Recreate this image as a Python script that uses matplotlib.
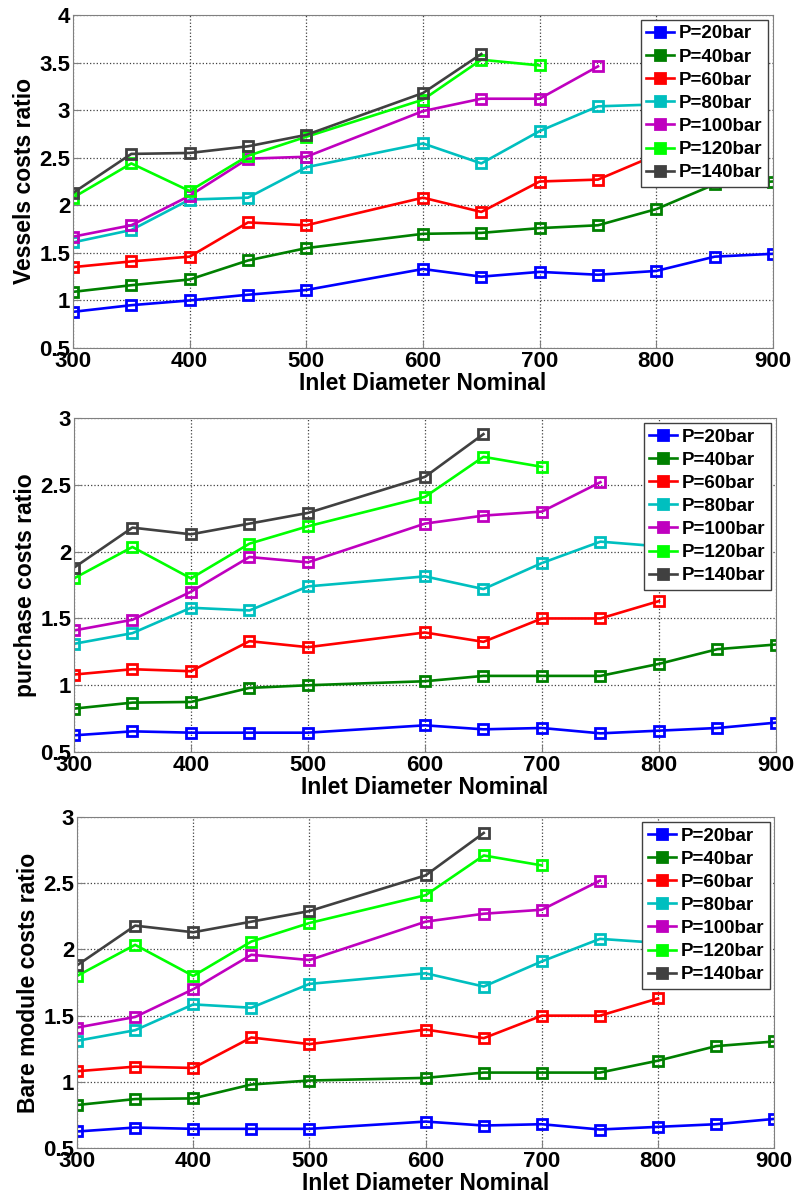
import matplotlib
matplotlib.use('Agg')
import matplotlib.pyplot as plt

plt.rcParams['font.family'] = ['Liberation Sans', 'DejaVu Sans']
plt.rcParams['font.weight'] = 'bold'

diam = [300, 350, 400, 450, 500, 600, 650, 700, 750, 800, 850, 900]
labels = ['P=20bar', 'P=40bar', 'P=60bar', 'P=80bar', 'P=100bar', 'P=120bar', 'P=140bar']
colors = ['#0000ff', '#008000', '#ff0000', '#00bfbf', '#bf00bf', '#00ff00', '#404040']

# vessels costs ratio
vessels = [
    [0.88, 0.95, 1.00, 1.06, 1.11, 1.33, 1.25, 1.30, 1.27, 1.31, 1.46, 1.49],
    [1.09, 1.16, 1.22, 1.42, 1.55, 1.70, 1.71, 1.76, 1.79, 1.96, 2.22, 2.25],
    [1.35, 1.41, 1.46, 1.82, 1.79, 2.08, 1.93, 2.25, 2.27, 2.53],
    [1.61, 1.74, 2.06, 2.08, 2.40, 2.65, 2.44, 2.78, 3.04, 3.06],
    [1.67, 1.79, 2.10, 2.49, 2.51, 2.99, 3.12, 3.12, 3.46],
    [2.08, 2.44, 2.15, 2.52, 2.72, 3.11, 3.53, 3.47],
    [2.13, 2.54, 2.55, 2.62, 2.74, 3.18, 3.59],
]

# purchase costs ratio
purchase = [
    [0.625, 0.655, 0.645, 0.645, 0.645, 0.70, 0.67, 0.68, 0.64, 0.66, 0.68, 0.72],
    [0.825, 0.87, 0.875, 0.98, 1.00, 1.03, 1.07, 1.07, 1.07, 1.16, 1.27, 1.305],
    [1.08, 1.12, 1.105, 1.33, 1.285, 1.395, 1.325, 1.50, 1.50, 1.63],
    [1.31, 1.39, 1.58, 1.56, 1.74, 1.815, 1.72, 1.915, 2.075, 2.04],
    [1.41, 1.49, 1.70, 1.96, 1.92, 2.21, 2.27, 2.30, 2.52],
    [1.80, 2.035, 1.80, 2.06, 2.19, 2.41, 2.71, 2.635],
    [1.88, 2.18, 2.13, 2.21, 2.29, 2.56, 2.88],
]

# bare module costs ratio
bare = [
    [0.625, 0.655, 0.645, 0.645, 0.645, 0.70, 0.67, 0.68, 0.64, 0.66, 0.68, 0.72],
    [0.825, 0.87, 0.875, 0.98, 1.01, 1.03, 1.07, 1.07, 1.07, 1.16, 1.27, 1.305],
    [1.08, 1.115, 1.105, 1.335, 1.285, 1.395, 1.33, 1.50, 1.50, 1.63],
    [1.31, 1.39, 1.585, 1.56, 1.74, 1.82, 1.72, 1.91, 2.08, 2.05],
    [1.41, 1.49, 1.70, 1.96, 1.92, 2.21, 2.27, 2.30, 2.52],
    [1.80, 2.035, 1.80, 2.06, 2.20, 2.41, 2.71, 2.635],
    [1.88, 2.18, 2.13, 2.21, 2.29, 2.56, 2.88],
]

panels = [
    (vessels, 'Vessels costs ratio', (0.5, 4), [0.5, 1, 1.5, 2, 2.5, 3, 3.5, 4],
     [0.0918, 0.71, 0.8805, 0.2775]),
    (purchase, 'purchase costs ratio', (0.5, 3), [0.5, 1, 1.5, 2, 2.5, 3],
     [0.093, 0.3733, 0.883, 0.2783]),
    (bare, 'Bare module costs ratio', (0.5, 3), [0.5, 1, 1.5, 2, 2.5, 3],
     [0.0969, 0.0433, 0.877, 0.2758]),
]

fig = plt.figure(figsize=(7.95, 12), dpi=100)

for data, ylabel, ylim, yticks, pos in panels:
    ax = fig.add_axes(pos)
    for vals, lab, col in zip(data, labels, colors):
        ax.plot(diam[:len(vals)], vals, '-s', color=col, lw=1.9, ms=7,
                mfc='none', mew=2.0, label=lab)
    ax.set_xlim(300, 900)
    ax.set_ylim(*ylim)
    ax.set_xticks([300, 400, 500, 600, 700, 800, 900])
    ax.set_yticks(yticks)
    ax.set_yticklabels(['%g' % t for t in yticks])
    ax.grid(True, linestyle=':', color='#404040', lw=0.9)
    ax.tick_params(direction='in', labelsize=16, pad=2, length=5, color='#808080')
    for s in ax.spines.values():
        s.set_color('#808080')
    ax.set_xlabel('Inlet Diameter Nominal', fontsize=16.5, fontweight='bold', labelpad=0)
    ax.set_ylabel(ylabel, fontsize=16.5, fontweight='bold', labelpad=2)
    leg = ax.legend(loc='upper right', fontsize=13.5, fancybox=False, framealpha=1,
                    edgecolor='#404040', handlelength=1.5, handletextpad=0.25,
                    labelspacing=0.32, borderaxespad=0.25, borderpad=0.3)
    for h in leg.get_lines():
        h.set_markerfacecolor(h.get_color())

fig.savefig('out.png', dpi=100)
